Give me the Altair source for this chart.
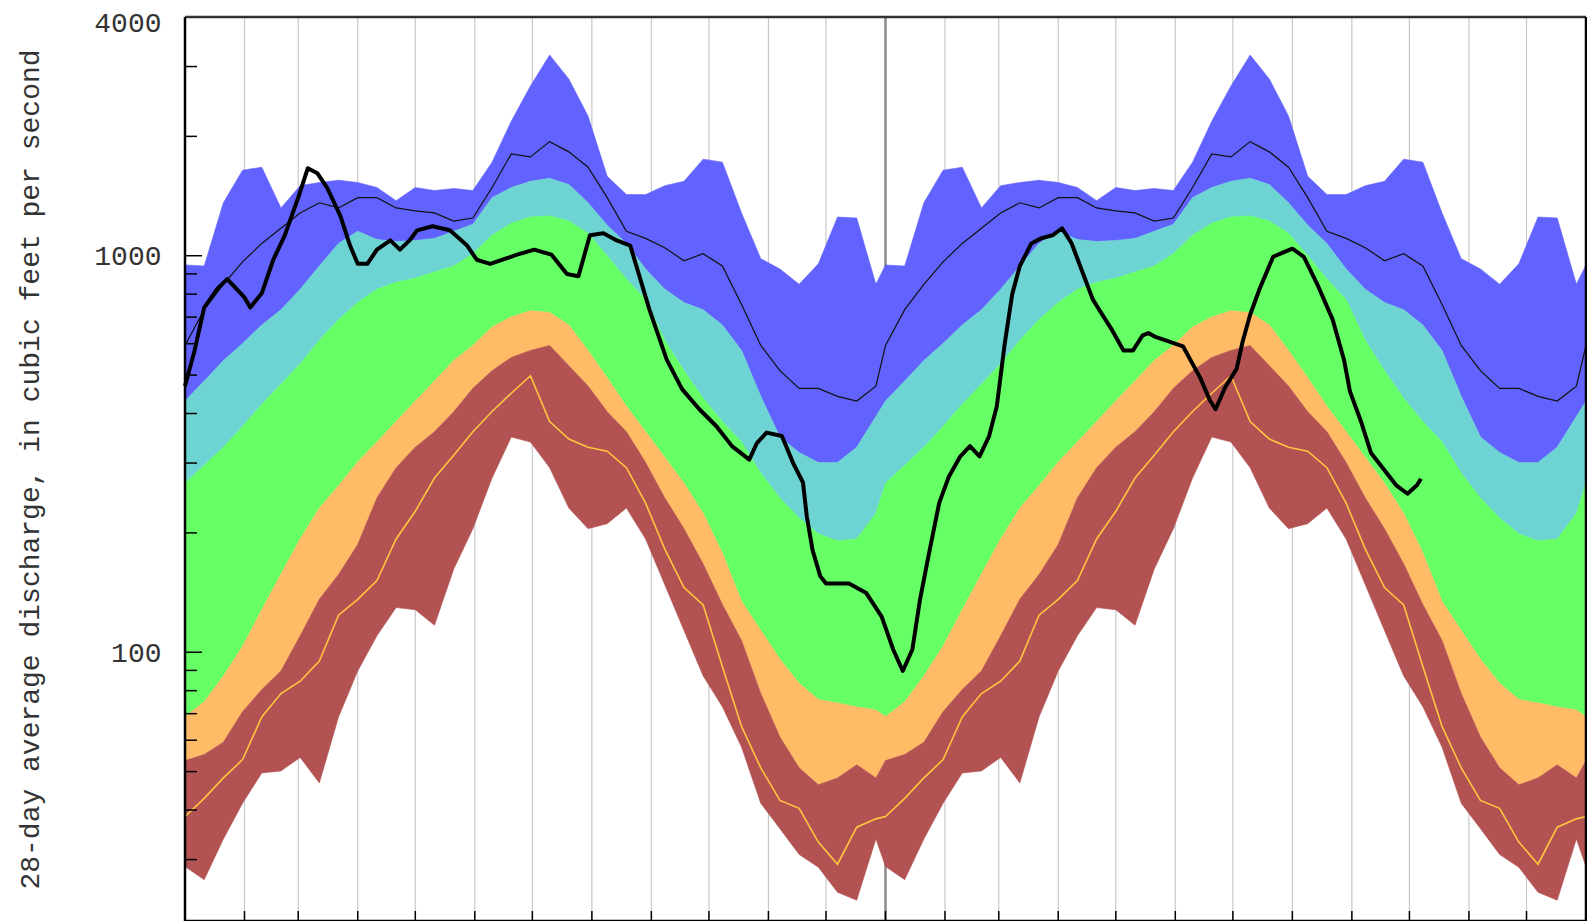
import altair as alt
import pandas as pd

# ---------------- data ----------------
START = pd.Timestamp("2006-01-01")

# day-of-year sample points for the daily statistics (same for both years shown)
STAT_DAYS = list(range(0, 361, 10))

MAX_CFS = [948, 942, 1360, 1643, 1672, 1320, 1502, 1530, 1550, 1530, 1486, 1377,
           1486, 1460, 1478, 1460, 1722, 2183, 2680, 3206, 2790, 2250, 1586, 1426,
           1426, 1502, 1540, 1752, 1722, 1282, 983, 926, 847, 954, 1252, 1245, 847]
P90_CFS = [430, 483, 544, 601, 669, 731, 823, 942, 1074, 1152, 1099, 1086,
           1093, 1106, 1152, 1200, 1401, 1486, 1540, 1568, 1512, 1360, 1194, 1074,
           926, 823, 762, 731, 669, 577, 442, 349, 319, 301, 301, 329, 393]
P75_CFS = [267, 296, 329, 371, 422, 474, 534, 612, 690, 762, 823, 857,
           878, 910, 942, 1012, 1126, 1208, 1252, 1260, 1223, 1139, 1000, 873,
           776, 612, 513, 437, 382, 339, 283, 245, 218, 199, 191, 193, 224]
P25_CFS = [68.8, 75, 87.1, 103.6, 128, 157.5, 193, 231, 263, 302, 339, 382,
           430, 483, 544, 594, 661, 701, 727, 719, 669, 577, 492, 417,
           360, 310, 267, 224, 178, 134.5, 113.5, 96, 83.5, 76, 74.5, 72.8, 71.5]
P10_CFS = [53.3, 55.2, 59.3, 70.8, 80.5, 89.7, 110, 136, 157, 187, 245, 292,
           329, 360, 404, 463, 513, 554, 577, 594, 528, 469, 404, 360,
           301, 245, 205, 167, 132, 107, 78.7, 61.1, 51.1, 46.3, 48.2, 52, 48.2]
MIN_CFS = [28.8, 26.7, 33.8, 41.6, 49.6, 50.2, 54.3, 46.8, 68.7, 89.7, 110, 129.6,
           128, 117, 162, 205, 275, 349, 339, 292, 231, 205, 211, 231,
           193, 148, 113.5, 87.1, 72.9, 57.6, 41.6, 35.9, 30.9, 28.7, 24.8, 23.7, 33.8]
THIN_BLACK_CFS = [594, 731, 847, 965, 1074, 1173, 1282, 1360, 1320, 1401, 1401, 1320,
                  1297, 1282, 1223, 1245, 1486, 1806, 1775, 1940, 1828, 1672, 1401, 1152,
                  1106, 1048, 971, 1012, 942, 753, 594, 513, 463, 463, 442, 430, 469]
YELLOW_CFS = [38.5, 42.8, 48.2, 53.6, 68.7, 78.7, 84.5, 95, 124, 136, 151.7, 193,
              226.8, 275, 314, 360, 404.7, 450, 498, 381.6, 345, 329, 321.4, 292,
              237.7, 182, 145.6, 131.6, 92, 65, 51.1, 42.3, 40.4, 33.2, 29.2, 36.2, 38]

# current 28-day average discharge (days since start of the plot)
CUR_DAYS = [0, 5, 10, 17, 22, 31, 34, 40, 46, 52, 59, 64, 69, 74, 81, 86, 90, 95, 100,
            107, 112, 117, 121, 129, 138, 147, 152, 159, 173, 182, 191, 199, 205, 211,
            218, 225, 232, 242, 251, 259, 268, 277, 285, 294, 298, 303, 311, 317, 322,
            324, 327, 331, 334, 346, 355, 363, 369, 374, 379, 383, 388, 393, 398, 404,
            409, 414, 419, 423, 427, 431, 435, 441, 446, 452, 457, 462, 468, 473, 478,
            483, 489, 494, 499, 502, 506, 511, 520, 529, 534, 537, 542, 548, 551, 555,
            560, 567, 572, 577, 583, 590, 598, 604, 607, 613, 618, 624, 631, 637, 642, 644]
CUR_CFS = [469, 577, 740, 827, 873, 785, 740, 804, 977, 1126, 1401, 1662, 1614, 1486,
           1259, 1061, 954, 954, 1036, 1093, 1036, 1093, 1159, 1187, 1159, 1061, 977, 954,
           1006, 1036, 1006, 899, 888, 1126, 1139, 1093, 1061, 731, 547, 461, 410, 371,
           331, 306, 337, 358, 351, 299, 268, 220, 181, 155.6, 149, 149, 141, 123, 101.6,
           89.7, 101.6, 136, 181, 238, 277, 312, 331, 312, 351, 417, 594, 799, 942, 1074,
           1106, 1126, 1173, 1074, 899, 776, 710, 650, 577, 577, 630, 638, 623, 612, 591,
           492, 432, 410, 466, 519, 605, 710, 827, 994, 1018, 1042, 994, 847, 690, 544,
           455, 379, 318, 292, 264, 251, 264, 274]

Y_LABELS = [100, 1000, 4000]
Y_MINOR_TICKS = [30, 40, 50, 60, 70, 80, 90, 200, 300, 400, 500, 600, 700, 800, 900,
                 2000, 3000]
Y_MAJOR_TICKS = [100, 1000]
YEAR_BREAK = ["2007-01-01"]

BAND_NAMES = ["Max-90th", "90th-75th", "75th-25th", "25th-10th", "10th-Min"]
BAND_COLORS = ["#6262FF", "#6DD3D3", "#66FF66", "#FFBB66", "#B35252"]

# ---------------- tables ----------------
series = {"max": MAX_CFS, "p90": P90_CFS, "p75": P75_CFS, "p25": P25_CFS,
          "p10": P10_CFS, "min": MIN_CFS, "thin": THIN_BLACK_CFS, "yellow": YELLOW_CFS}
rows = []
for yr in (0, 1):
    for i, d in enumerate(STAT_DAYS):
        r = {"day": yr * 365 + d}
        r.update({k: v[i] for k, v in series.items()})
        rows.append(r)
r = {"day": 730}
r.update({k: v[0] for k, v in series.items()})
rows.append(r)
stats = pd.DataFrame(rows)
stats["date"] = START + pd.to_timedelta(stats["day"], unit="D")

band_pairs = [("max", "p90"), ("p90", "p75"), ("p75", "p25"), ("p25", "p10"), ("p10", "min")]
parts = []
for name, (hi, lo) in zip(BAND_NAMES, band_pairs):
    parts.append(pd.DataFrame({"date": stats["date"], "hi": stats[hi],
                               "lo": stats[lo], "band": name}))
bands = pd.concat(parts, ignore_index=True)

cur = pd.DataFrame({"date": START + pd.to_timedelta(pd.Series(CUR_DAYS), unit="D"),
                    "cfs": CUR_CFS})

months = pd.DataFrame({"date": pd.date_range("2006-02-01", "2007-12-01", freq="MS")})
year_df = pd.DataFrame({"date": pd.to_datetime(YEAR_BREAK)})
yminor = pd.DataFrame({"v": Y_MINOR_TICKS})
ymajor = pd.DataFrame({"v": Y_MAJOR_TICKS})
frame_df = pd.DataFrame({"k": [0]})

# ---------------- encodings ----------------
W, H = 1401, 904
FONT = "Liberation Mono"
x_scale = alt.Scale(domain=[alt.DateTime(year=2006, month=1, date=1),
                            alt.DateTime(year=2008, month=1, date=1)])
y_scale = alt.Scale(type="log", domain=[21, 4000], nice=False)
y_axis = alt.Axis(values=Y_LABELS, format="d", grid=False, ticks=False, domain=False,
                  labelFont=FONT, labelFontSize=28, labelColor="#333",
                  labelPadding=24, labelOverlap=False, labelFlush=False,
                  labelAlign="right", labelBaseline="middle",
                  labelOffset={"expr": "datum.value >= 4000 ? 6 : 1"},
                  title="28-day average discharge, in cubic feet per second",
                  titleFont=FONT, titleFontSize=28, titleFontWeight="normal",
                  titleColor="#333", titleAngle=-90, titleX=-155, titleY=H / 2,
                  titleAlign="center", titleBaseline="middle", zindex=1)


def X(f):
    return alt.X(f"{f}:T", scale=x_scale, axis=None)


def Y(f):
    return alt.Y(f"{f}:Q", scale=y_scale, axis=y_axis)


grid = alt.Chart(months).mark_rule(color="#c8c8c8", strokeWidth=1.2).encode(x=X("date"))
yearline = alt.Chart(year_df).mark_rule(color="#8a8a8a", strokeWidth=2.5).encode(x=X("date"))

area = alt.Chart(bands).mark_area(interpolate="linear", strokeWidth=0.6).encode(
    x=X("date"), y=Y("hi"), y2=alt.Y2("lo:Q"),
    color=alt.Color("band:N", scale=alt.Scale(domain=BAND_NAMES, range=BAND_COLORS), legend=None),
    stroke=alt.Stroke("band:N", scale=alt.Scale(domain=BAND_NAMES, range=BAND_COLORS), legend=None),
)

thin = alt.Chart(stats).mark_line(color="#111", strokeWidth=1.2).encode(x=X("date"), y=Y("thin"))
yellow = alt.Chart(stats).mark_line(color="#FFC640", strokeWidth=1.6).encode(x=X("date"), y=Y("yellow"))
current = alt.Chart(cur).mark_line(color="black", strokeWidth=4, strokeJoin="round").encode(
    x=X("date"), y=Y("cfs"))

ytick_minor = alt.Chart(yminor).mark_rule(color="black", strokeWidth=1.5).encode(
    y=Y("v"), x=alt.value(0), x2=alt.value(12))
ytick_major = alt.Chart(ymajor).mark_rule(color="black", strokeWidth=1.5).encode(
    y=Y("v"), x=alt.value(0), x2=alt.value(17))
xtick = alt.Chart(months).mark_rule(color="black", strokeWidth=1.5).encode(
    x=X("date"), y=alt.value(H - 10), y2=alt.value(H))

top_edge = alt.Chart(frame_df).mark_rule(color="#333", strokeWidth=2.5).encode(
    x=alt.value(0), x2=alt.value(W), y=alt.value(0))
left_edge = alt.Chart(frame_df).mark_rule(color="black", strokeWidth=2.5).encode(
    x=alt.value(0), y=alt.value(0), y2=alt.value(H))
right_edge = alt.Chart(frame_df).mark_rule(color="black", strokeWidth=2.5).encode(
    x=alt.value(W), y=alt.value(0), y2=alt.value(H))
bottom_edge = alt.Chart(frame_df).mark_rule(color="black", strokeWidth=2.5).encode(
    x=alt.value(0), x2=alt.value(W), y=alt.value(H))

chart = alt.layer(
    grid, yearline, area, thin, yellow, current,
    ytick_minor, ytick_major, xtick, top_edge, left_edge, right_edge, bottom_edge,
).properties(
    width=W, height=H,
    autosize=alt.AutoSizeParams(type="none"),
    padding={"left": 177, "top": 9, "right": 1, "bottom": 0},
    background="white",
).configure_view(stroke=None)

chart.save("out.html", embed_options={"renderer": "svg", "actions": False})
